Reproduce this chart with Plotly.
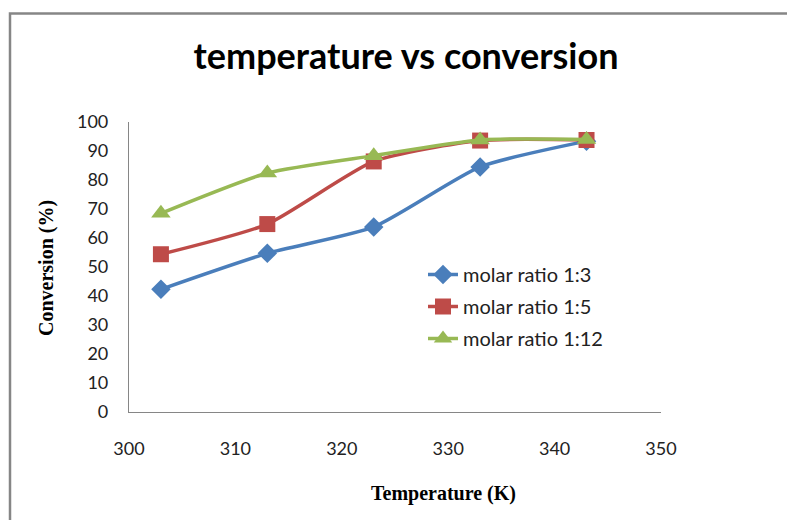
import plotly.graph_objects as go

temperature = [303, 313, 323, 333, 343]
ratio_1_3 = [42.3, 54.7, 63.8, 84.5, 93.4]
ratio_1_5 = [54.4, 64.8, 86.4, 93.6, 93.8]
ratio_1_12 = [68.5, 82.4, 88.4, 93.8, 94.0]
series_names = ["molar ratio 1:3", "molar ratio 1:5", "molar ratio 1:12"]
x_ticks = [300, 310, 320, 330, 340, 350]
y_ticks = [0, 10, 20, 30, 40, 50, 60, 70, 80, 90, 100]
title_text = "temperature vs conversion"
x_title = "Temperature (K)"
y_title = "Conversion (%)"

W, H = 787, 520
ML, MR, MT, MB = 129, 126, 122, 108
PW, PH = W - ML - MR, H - MT - MB

colors = ["#4A7EBB", "#BE4B48", "#98B954"]
symbols = ["diamond", "square", "triangle-up"]
sizes = [15, 16, 17]

fig = go.Figure()
for i, (name, vals) in enumerate(zip(series_names, [ratio_1_3, ratio_1_5, ratio_1_12])):
    fig.add_trace(go.Scatter(
        x=temperature, y=vals, name=name, mode="lines+markers",
        line=dict(color=colors[i], width=3.5, shape="spline", smoothing=0.6),
        marker=dict(symbol=symbols[i], size=sizes[i], color=colors[i]),
        legendgroup=name,
    ))

def px_x(px):
    return (px - ML) / PW

def px_y(py):
    return (H - MB - py) / PH

fig.add_shape(type="path", xref="paper", yref="paper",
              path=f"M {px_x(10)} {px_y(521)} L {px_x(10)} {px_y(13.5)} L {px_x(790)} {px_y(13.5)}",
              line=dict(color="#868686", width=2.5), layer="below")

fig.add_annotation(text=f"<b>{x_title}</b>", xref="paper", yref="paper",
                   x=px_x(443), y=px_y(494), xanchor="center", yanchor="middle",
                   showarrow=False, font=dict(family="Liberation Serif", size=20, color="black"))
fig.add_annotation(text=f"<b>{y_title}</b>", xref="paper", yref="paper",
                   x=px_x(46), y=px_y(268), xanchor="center", yanchor="middle", textangle=-90,
                   showarrow=False, font=dict(family="Liberation Serif", size=20, color="black"))

fig.update_layout(
    width=W, height=H,
    margin=dict(l=ML, r=MR, t=MT, b=MB),
    paper_bgcolor="white", plot_bgcolor="white",
    title=dict(text=f"<b>{title_text}</b>", x=406 / W, xanchor="center",
               y=1 - 56 / H, yanchor="middle",
               font=dict(family="Lato", size=36, color="black")),
    font=dict(family="Lato", size=18, color="#222"),
    xaxis=dict(range=[300, 350], tickvals=x_ticks, showgrid=False, zeroline=False,
               showline=True, linecolor="#868686", linewidth=1.2, ticks="",
               ticklabelstandoff=20, tickfont=dict(family="Lato", size=18, color="#222")),
    yaxis=dict(range=[0, 100], tickvals=y_ticks, showgrid=False, zeroline=False,
               showline=True, linecolor="#868686", linewidth=1.2, ticks="",
               ticklabelstandoff=16, tickfont=dict(family="Lato", size=18, color="#222")),
    legend=dict(x=px_x(423), y=px_y(255), xanchor="left", yanchor="top",
                bgcolor="rgba(0,0,0,0)", tracegroupgap=3,
                font=dict(family="Lato", size=20, color="#222")),
    showlegend=True,
)

fig.write_html("out.html", config={"displayModeBar": False},
               post_script="document.body.style.margin='0';document.body.style.overflow='hidden';")
